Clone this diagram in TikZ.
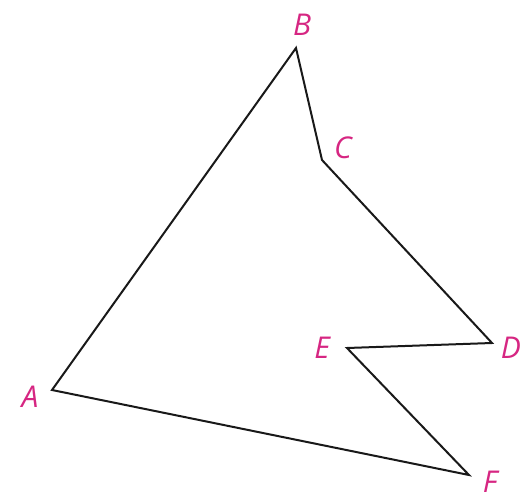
\documentclass[tikz,border=0pt]{standalone}
\usepackage{fontspec}
\setmainfont{Open Sans}
\definecolor{lblmag}{RGB}{214,38,130}
\tikzset{
  vtx/.style={inner sep=0pt, outer sep=0pt, minimum size=0pt},
  lbl/.style={text=lblmag, font=\fontsize{30}{36}\selectfont\itshape, inner sep=0pt},
  edge/.style={draw=black!90, line width=2pt, line join=miter}
}
\begin{document}
\begin{tikzpicture}[x=1pt, y=-1pt]
\useasboundingbox (0,0) rectangle (528,499);
\coordinate (A) at (52,390);
\coordinate (B) at (296,48);
\coordinate (C) at (322,160);
\coordinate (D) at (492,343);
\coordinate (E) at (347,348);
\coordinate (F) at (469,475);
\draw[edge] (A) -- (B) -- (C) -- (D) -- (E) -- (F) -- cycle;
\node[lbl] (lA) at (30,397) {A};
\node[lbl] (lB) at (302,25) {B};
\node[lbl] (lC) at (343,148) {C};
\node[lbl] (lD) at (511,348) {D};
\node[lbl] (lE) at (322,348) {E};
\node[lbl] (lF) at (490,482) {F};
\end{tikzpicture}
\end{document}
